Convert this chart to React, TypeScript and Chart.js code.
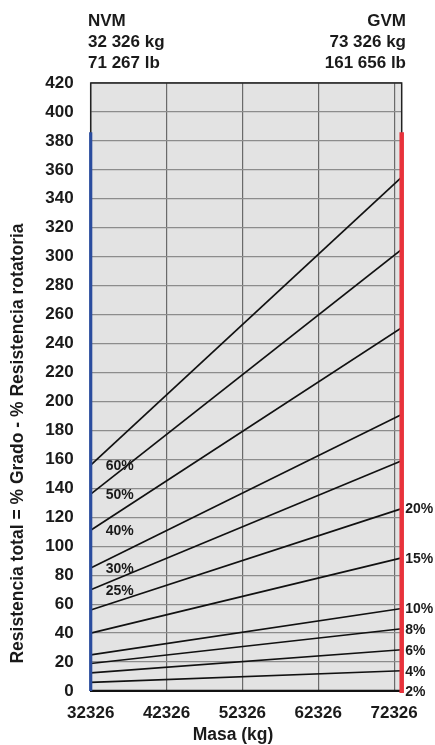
import { useEffect, useRef } from "react";
import { Chart, registerables } from "chart.js";

Chart.register(...registerables);

// ---- data ----
const massMin = 32326;
const massMax = 73326;
const massTicks = [32326, 42326, 52326, 62326, 72326];
const resistanceTicks = [0, 20, 40, 60, 80, 100, 120, 140, 160, 180, 200, 220, 240, 260, 280, 300, 320, 340, 360, 380, 400, 420];
const grades = ["60%", "50%", "40%", "30%", "25%", "20%", "15%", "10%", "8%", "6%", "4%", "2%"];
const startValues = [156, 136, 111, 85, 70, 56, 40, 25, 19, 12.5, 6, 0];
const endValues = [355, 305, 251, 191, 159, 126, 92, 57, 43, 28.5, 14, 0];
const labelSides = ["left", "left", "left", "left", "left", "right", "right", "right", "right", "right", "right", "right"];
const limitTop = 386;
const nvmLines = ["NVM", "32 326 kg", "71 267 lb"];
const gvmLines = ["GVM", "73 326 kg", "161 656 lb"];
const yTitle = "Resistencia total = % Grado - % Resistencia rotatoria";
const xTitle = "Masa (kg)";

const FONT = "'Liberation Sans', Arial, Helvetica, sans-serif";

export default function App() {
  const ref = useRef<HTMLCanvasElement | null>(null);

  useEffect(() => {
    const canvas = ref.current;
    if (!canvas) return;

    const gradeSets = grades.map((g, i) => ({
      label: g,
      data: [
        { x: massMin, y: startValues[i] },
        { x: massMax, y: endValues[i] },
      ],
      borderColor: "#111111",
      borderWidth: g === "2%" ? 2.5 : 1.7,
      pointRadius: 0,
      fill: false,
      tension: 0,
    }));

    const limitSets = [
      {
        label: "NVM",
        data: [
          { x: massMin, y: 0 },
          { x: massMin, y: limitTop },
        ],
        borderColor: "#2a4c9e",
        borderWidth: 3.2,
        pointRadius: 0,
        clip: false as const,
      },
      {
        label: "GVM",
        data: [
          { x: massMax, y: -1.3 },
          { x: massMax, y: limitTop },
        ],
        borderColor: "#e8323b",
        borderWidth: 4.5,
        pointRadius: 0,
        clip: false as const,
      },
    ];

    const decor = {
      id: "decor",
      beforeDraw(chart: any) {
        const { ctx, chartArea: a } = chart;
        ctx.save();
        ctx.fillStyle = "#e3e3e3";
        ctx.fillRect(a.left, a.top, a.right - a.left, a.bottom - a.top);
        ctx.restore();
      },
      beforeDatasetsDraw(chart: any) {
        const { ctx, chartArea: a } = chart;
        ctx.save();
        ctx.strokeStyle = "#222222";
        ctx.lineWidth = 1.5;
        ctx.beginPath();
        ctx.moveTo(a.left, a.bottom);
        ctx.lineTo(a.left, a.top);
        ctx.lineTo(a.right, a.top);
        ctx.lineTo(a.right, a.bottom);
        ctx.stroke();
        ctx.restore();
      },
      afterDraw(chart: any) {
        const { ctx, chartArea: a, scales } = chart;
        const ys = scales.y;
        ctx.save();
        ctx.fillStyle = "#1a1a1a";
        // header
        ctx.font = `bold 17px ${FONT}`;
        ctx.textBaseline = "middle";
        const hy = [21, 42.5, 63.5];
        ctx.textAlign = "left";
        nvmLines.forEach((t, i) => ctx.fillText(t, 88, hy[i]));
        ctx.textAlign = "right";
        gvmLines.forEach((t, i) => ctx.fillText(t, 406, hy[i]));
        // grade labels
        ctx.font = `bold 14px ${FONT}`;
        grades.forEach((g, i) => {
          if (labelSides[i] === "left") {
            ctx.textAlign = "left";
            ctx.fillText(g, a.left + 15, ys.getPixelForValue(startValues[i]) + 1);
          } else {
            ctx.textAlign = "left";
            ctx.fillText(g, a.right + 3.5, ys.getPixelForValue(endValues[i]) + 1);
          }
        });
        // axis titles
        ctx.font = `bold 17.5px ${FONT}`;
        ctx.textAlign = "center";
        ctx.fillText(xTitle, 233, 735);
        ctx.translate(18.5, 443.5);
        ctx.rotate(-Math.PI / 2);
        ctx.fillText(yTitle, 0, 0);
        ctx.restore();
      },
    };

    const chart = new Chart(canvas, {
      type: "line",
      data: { datasets: [...limitSets, ...gradeSets] as any },
      options: {
        animation: false,
        responsive: false,
        devicePixelRatio: 1,
        layout: { padding: { top: 83, right: 33.3, left: 0, bottom: 0 } },
        plugins: {
          legend: { display: false },
          tooltip: { enabled: false },
        },
        scales: {
          x: {
            type: "linear",
            min: massMin,
            max: massMax,
            afterBuildTicks(scale: any) {
              scale.ticks = massTicks.map((v) => ({ value: v }));
            },
            afterFit(scale: any) {
              scale.height = 54;
            },
            ticks: {
              padding: 12,
              color: "#1a1a1a",
              font: { family: FONT, weight: "bold", size: 17 },
              callback: (v: any) => String(v),
              maxRotation: 0,
              autoSkip: false,
            },
            grid: { color: "#6a6a6a", lineWidth: 1.2, drawTicks: false },
            border: { display: true, color: "#111111", width: 2 },
          },
          y: {
            type: "linear",
            min: 0,
            max: 420,
            afterBuildTicks(scale: any) {
              scale.ticks = resistanceTicks.map((v) => ({ value: v }));
            },
            afterFit(scale: any) {
              scale.width = 90.7;
            },
            ticks: {
              padding: 17,
              color: "#1a1a1a",
              font: { family: FONT, weight: "bold", size: 17 },
              autoSkip: false,
            },
            grid: { color: "#8c8c8c", lineWidth: 1.2, drawTicks: false },
            border: { display: false },
          },
        },
      },
      plugins: [decor],
    });

    return () => chart.destroy();
  }, []);

  return (
    <div style={{ position: "fixed", left: 0, top: 0, width: 435, height: 745, background: "#fff" }}>
      <canvas ref={ref} width={435} height={745} style={{ display: "block", width: 435, height: 745 }} />
    </div>
  );
}
